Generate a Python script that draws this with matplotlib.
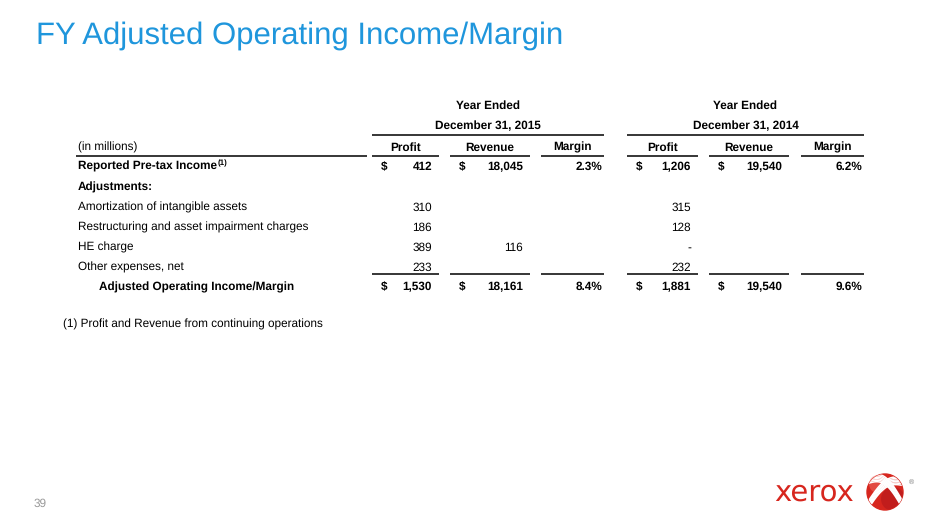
import numpy as np
import matplotlib.pyplot as plt
from matplotlib.patches import Circle

plt.rcParams['font.family'] = ['Liberation Sans', 'DejaVu Sans']
plt.rcParams['text.hinting'] = 'no_hinting'

# table content
title = "FY Adjusted Operating Income/Margin"
year_heads = ["December 31, 2015", "December 31, 2014"]
col_heads = ["Profit", "Revenue", "Margin"]
row_labels = [
    "Reported Pre-tax Income",
    "Adjustments:",
    "Amortization of intangible assets",
    "Restructuring and asset impairment charges",
    "HE charge",
    "Other expenses, net",
    "Adjusted Operating Income/Margin",
]
profit_2015 = ["412", "", "310", "186", "389", "233", "1,530"]
revenue_2015 = ["18,045", "", "", "", "116", "", "18,161"]
margin_2015 = ["2.3%", "", "", "", "", "", "8.4%"]
profit_2014 = ["1,206", "", "315", "128", "-", "232", "1,881"]
revenue_2014 = ["19,540", "", "", "", "", "", "19,540"]
margin_2014 = ["6.2%", "", "", "", "", "", "9.6%"]
dollar_rows = [0, 6]
bold_rows = [0, 1, 6]
footnote = "(1) Profit and Revenue from continuing operations"
page_no = "39"

BLUE = '#1F96DC'
RED = '#D7261E'
FS = 8.5

fig = plt.figure(figsize=(9.4, 5.28), dpi=100)
ax = fig.add_axes([0, 0, 1, 1])
ax.set_xlim(0, 940)
ax.set_ylim(528, 0)
ax.axis('off')

ax.text(36, 44, title, fontsize=22.4, color=BLUE, va='baseline', ha='left')

# column geometry: (left, right) of each underline segment
groups = [
    [(372, 439), (450, 530), (541, 604)],
    [(627, 698), (709, 789), (801, 864)],
]
row_y = [170, 191, 211, 231, 251, 271, 290]


def hline(x0, x1, y, lw=1.1):
    ax.plot([x0, x1], [y, y], color='black', lw=lw, solid_capstyle='butt')


# headers
for g, segs in enumerate(groups):
    gx0, gx1 = segs[0][0], segs[-1][1]
    xc = (gx0 + gx1) / 2
    ax.text(xc, 109, "Year Ended", fontsize=FS, fontweight='bold', ha='center', va='baseline')
    ax.text(xc, 129.5, year_heads[g], fontsize=FS, fontweight='bold', ha='center', va='baseline')
    hline(gx0, gx1, 134.5)
    for (x0, x1), h in zip(segs, col_heads):
        ax.text((x0 + x1) / 2, 150.5, h, fontsize=FS, fontweight='bold', ha='center', va='baseline')
        hline(x0, x1, 155.5)
        hline(x0, x1, 274)

ax.text(78, 150.5, "(in millions)", fontsize=FS, ha='left', va='baseline')
hline(76, 367, 155.5)

# row labels
fig.canvas.draw()
rend = fig.canvas.get_renderer()
for i, lab in enumerate(row_labels):
    w = 'bold' if i in bold_rows else 'normal'
    x = 99 if i == len(row_labels) - 1 else 78
    t = ax.text(x, row_y[i], lab, fontsize=FS, fontweight=w, ha='left', va='baseline')
    if i == 0:
        bb = t.get_window_extent(renderer=rend)
        ax.text(bb.x1 + 1, row_y[i] - 5, "(1)", fontsize=5.8, fontweight='bold',
                ha='left', va='baseline')

# values
cols = [
    (groups[0][0], profit_2015, True), (groups[0][1], revenue_2015, True),
    (groups[0][2], margin_2015, False),
    (groups[1][0], profit_2014, True), (groups[1][1], revenue_2014, True),
    (groups[1][2], margin_2014, False),
]
for (x0, x1), vals, has_dollar in cols:
    right = x1 - 7 if has_dollar else x1 - 2
    for i, v in enumerate(vals):
        if v == "":
            continue
        w = 'bold' if i in bold_rows else 'normal'
        ax.text(right, row_y[i], v, fontsize=FS, fontweight=w, ha='right', va='baseline')
        if has_dollar and i in dollar_rows:
            ax.text(x0 + 9, row_y[i], "$", fontsize=FS, fontweight='bold', ha='left', va='baseline')

ax.text(63, 328, footnote, fontsize=FS, ha='left', va='baseline')
ax.text(34, 507, page_no, fontsize=8.5, color='#9A9A9A', ha='left', va='baseline')

# logo
ax.text(774, 501, "xerox", fontsize=21, color=RED, family='DejaVu Sans',
        fontweight='medium', ha='left', va='baseline')
sphere = Circle((885, 492), 18, color=RED, zorder=3)
ax.add_patch(sphere)
shade = Circle((893, 499), 12, color='#A8141A', alpha=0.45, zorder=3, lw=0)
ax.add_patch(shade)
shade.set_clip_path(sphere)
hl = Circle((878, 484), 9, color='#F07870', alpha=0.45, zorder=3, lw=0)
ax.add_patch(hl)
tt = np.linspace(0, 1, 30)
for k in range(6):
    off = k * 1.5
    xa = 868 + 34 * tt
    ya = 476 + off + 24 * tt - 11 * np.sin(np.pi * tt)
    ln, = ax.plot(xa, ya, color='white', lw=1.1, zorder=4)
    ln.set_clip_path(sphere)
    xb = 903 - 34 * tt
    yb = 478 + off + 22 * tt - 9 * np.sin(np.pi * tt)
    ln, = ax.plot(xb, yb, color='white', lw=1.1, zorder=4)
    ln.set_clip_path(sphere)
ax.text(909, 484, "\u00ae", fontsize=5, color='#777777', ha='left', va='baseline')

fig.savefig('out.png', dpi=100)
